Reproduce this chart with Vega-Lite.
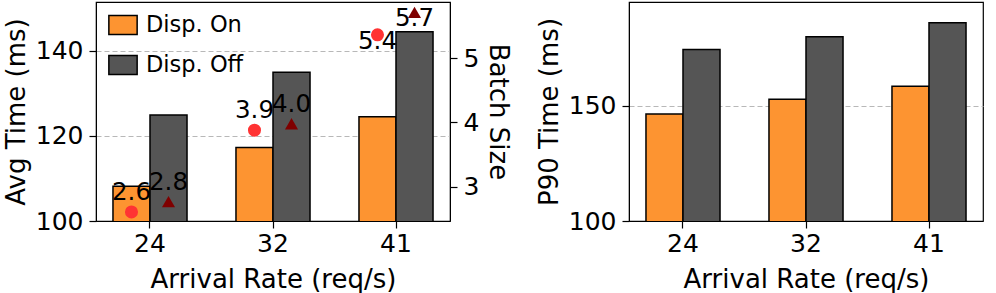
{
  "$schema": "https://vega.github.io/schema/vega-lite/v6.json",
  "padding": {"left": 2, "top": 1, "right": 0, "bottom": 0},
  "background": "white",
  "datasets": {
    "times": [
      {"rate": "24", "mode": "Disp. On", "avg": 108.2, "p90": 146.5, "batch": 2.61},
      {"rate": "24", "mode": "Disp. Off", "avg": 124.9, "p90": 174.6, "batch": 2.77},
      {"rate": "32", "mode": "Disp. On", "avg": 117.3, "p90": 152.9, "batch": 3.88},
      {"rate": "32", "mode": "Disp. Off", "avg": 135.0, "p90": 180.1, "batch": 3.98},
      {"rate": "41", "mode": "Disp. On", "avg": 124.5, "p90": 158.6, "batch": 5.36},
      {"rate": "41", "mode": "Disp. Off", "avg": 144.5, "p90": 186.2, "batch": 5.71}
    ]
  },
  "spacing": 23,
  "hconcat": [
    {
      "width": 354,
      "height": 219,
      "data": {"name": "times"},
      "layer": [
        {
          "mark": {"type": "bar", "stroke": "black", "strokeWidth": 1.5, "clip": true},
          "encoding": {
            "x": {"field": "rate", "type": "nominal", "sort": ["24", "32", "41"],
                  "scale": {"paddingInner": 0.398, "paddingOuter": 0.138},
                  "axis": {"title": "Arrival Rate (req/s)", "labelAngle": 0, "grid": false, "labelPadding": 3, "titlePadding": 10}},
            "xOffset": {"field": "mode", "type": "nominal", "sort": ["Disp. On", "Disp. Off"],
                        "scale": {"paddingInner": 0, "paddingOuter": 0}},
            "y": {"field": "avg", "type": "quantitative",
                  "scale": {"domain": [100, 151.5], "nice": false, "zero": false},
                  "axis": {"title": "Avg Time (ms)", "values": [100, 120, 140], "grid": true}},
            "color": {"field": "mode", "type": "nominal", "sort": ["Disp. On", "Disp. Off"],
                      "scale": {"domain": ["Disp. On", "Disp. Off"], "range": ["#FD9431", "#555555"]},
                      "legend": {"title": null, "orient": "none", "legendX": 12, "legendY": 8,
                                 "symbolType": "M-1,-0.68L1,-0.68L1,0.68L-1,0.68Z",
                                 "symbolSize": 800, "symbolStrokeColor": "black", "symbolStrokeWidth": 1.5,
                                 "symbolOpacity": 1, "labelFontSize": 22.5, "labelColor": "black",
                                 "rowPadding": 12, "labelOffset": 8}}
          }
        },
        {
          "layer": [
            {
              "mark": {"type": "point", "filled": true, "opacity": 1, "size": 170},
              "encoding": {
                "x": {"field": "rate", "type": "nominal", "sort": ["24", "32", "41"]},
                "xOffset": {"field": "mode", "type": "nominal", "sort": ["Disp. On", "Disp. Off"]},
                "y": {"field": "batch", "type": "quantitative",
                      "scale": {"domain": [2.47, 5.87], "nice": false, "zero": false},
                      "axis": {"title": "Batch Size", "orient": "right", "values": [3, 4, 5], "format": "d", "grid": false}},
                "shape": {"field": "mode", "type": "nominal",
                          "scale": {"domain": ["Disp. On", "Disp. Off"], "range": ["circle", "triangle-up"]},
                          "legend": null},
                "fill": {"field": "mode", "type": "nominal",
                         "scale": {"domain": ["Disp. On", "Disp. Off"], "range": ["#FF3333", "#7F0000"]},
                         "legend": null}
              }
            },
            {
              "transform": [{"filter": "datum.rate != '41'"}],
              "mark": {"type": "text", "fontSize": 24.5, "dy": -12, "baseline": "alphabetic", "color": "black"},
              "encoding": {
                "x": {"field": "rate", "type": "nominal", "sort": ["24", "32", "41"]},
                "xOffset": {"field": "mode", "type": "nominal", "sort": ["Disp. On", "Disp. Off"]},
                "y": {"field": "batch", "type": "quantitative"},
                "text": {"field": "batch", "type": "quantitative", "format": ".1f"}
              }
            },
            {
              "transform": [{"filter": "datum.rate == '41'"}],
              "mark": {"type": "text", "fontSize": 24.5, "dy": 14, "baseline": "alphabetic", "color": "black"},
              "encoding": {
                "x": {"field": "rate", "type": "nominal", "sort": ["24", "32", "41"]},
                "xOffset": {"field": "mode", "type": "nominal", "sort": ["Disp. On", "Disp. Off"]},
                "y": {"field": "batch", "type": "quantitative"},
                "text": {"field": "batch", "type": "quantitative", "format": ".1f"}
              }
            }
          ]
        }
      ],
      "resolve": {"scale": {"y": "independent", "fill": "independent", "shape": "independent"}}
    },
    {
      "width": 354,
      "height": 219,
      "data": {"name": "times"},
      "mark": {"type": "bar", "stroke": "black", "strokeWidth": 1.5, "clip": true},
      "encoding": {
        "x": {"field": "rate", "type": "nominal", "sort": ["24", "32", "41"],
              "scale": {"paddingInner": 0.398, "paddingOuter": 0.138},
              "axis": {"title": "Arrival Rate (req/s)", "labelAngle": 0, "grid": false, "labelPadding": 3, "titlePadding": 10}},
        "xOffset": {"field": "mode", "type": "nominal", "sort": ["Disp. On", "Disp. Off"],
                    "scale": {"paddingInner": 0, "paddingOuter": 0}},
        "y": {"field": "p90", "type": "quantitative",
              "scale": {"domain": [100, 195.2], "nice": false, "zero": false},
              "axis": {"title": "P90 Time (ms)", "values": [100, 150], "grid": true}},
        "color": {"field": "mode", "type": "nominal",
                  "scale": {"domain": ["Disp. On", "Disp. Off"], "range": ["#FD9431", "#555555"]},
                  "legend": null}
      }
    }
  ],
  "resolve": {"scale": {"color": "independent"}},
  "config": {
    "font": "DejaVu Sans",
    "view": {"stroke": "black", "strokeWidth": 1.2},
    "axis": {
      "labelFontSize": 25, "titleFontSize": 26, "labelColor": "black", "titleColor": "black",
      "titleFontWeight": "normal", "labelFont": "DejaVu Sans", "titleFont": "DejaVu Sans",
      "domainColor": "black", "tickColor": "black", "tickSize": 7, "tickWidth": 1.2,
      "labelPadding": 6, "titlePadding": 6,
      "gridColor": "#b8b8b8", "gridDash": [5, 3], "gridWidth": 1.2
    },
    "legend": {"labelFont": "DejaVu Sans"}
  }
}
